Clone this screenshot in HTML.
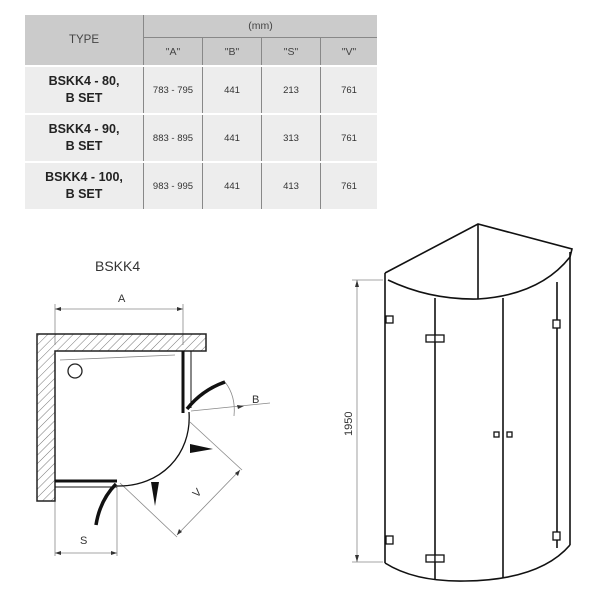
<!DOCTYPE html>
<html><head><style>
body{margin:0;width:600px;height:600px;background:#fff;overflow:hidden;font-family:"Liberation Sans",Arial,sans-serif}
table{position:absolute;left:25px;top:15px;border-collapse:collapse;width:352px;font-size:9.5px;color:#333}
td{text-align:center;padding:0;border-right:1.5px solid #888;border-bottom:2px solid #fff}
td:last-child{border-right:none}
.h{background:#cbcbcb;color:#444;font-size:10.5px}
.d td{background:#ededed;height:46px}
.t{font-weight:bold;font-size:12.5px;color:#222;line-height:17px}
</style></head><body>
<table>
<tr><td class="h" rowspan="2" style="width:118px;font-size:11.5px">TYPE</td><td class="h" colspan="4" style="height:22px;border-bottom:1.5px solid #888">(mm)</td></tr>
<tr><td class="h" style="height:27px;width:58px">"A"</td><td class="h" style="width:58px">"B"</td><td class="h" style="width:58px">"S"</td><td class="h">"V"</td></tr>
<tr class="d"><td class="t">BSKK4 - 80,<br>B SET</td><td>783 - 795</td><td>441</td><td>213</td><td>761</td></tr>
<tr class="d"><td class="t">BSKK4 - 90,<br>B SET</td><td>883 - 895</td><td>441</td><td>313</td><td>761</td></tr>
<tr class="d"><td class="t">BSKK4 - 100,<br>B SET</td><td>983 - 995</td><td>441</td><td>413</td><td>761</td></tr>
</table>
<svg width="600" height="600" style="position:absolute;left:0;top:0" font-family="Liberation Sans, Arial, sans-serif">
<defs><pattern id="hp" width="6" height="6" patternUnits="userSpaceOnUse" patternTransform="rotate(45)"><line x1="0" y1="0" x2="0" y2="6" stroke="#777" stroke-width="1"/></pattern></defs>
<text x="95" y="271" font-size="14" fill="#333">BSKK4</text>
<g stroke="#888" stroke-width="0.8" fill="none">
<line x1="55" y1="304" x2="55" y2="345"/><line x1="183" y1="304" x2="183" y2="345"/>
<line x1="55" y1="309" x2="183" y2="309"/>
<line x1="55" y1="490" x2="55" y2="556"/><line x1="117" y1="486" x2="117" y2="556"/>
<line x1="55" y1="553" x2="117" y2="553"/>
<line x1="191" y1="411" x2="270" y2="403"/>
<path d="M225,382 Q236,396 234,416"/>
<line x1="190" y1="422" x2="242" y2="470"/><line x1="120" y1="483" x2="177" y2="537"/>
<line x1="240" y1="470" x2="177" y2="535"/>
<line x1="60" y1="360" x2="175" y2="355"/>
</g>
<text x="118" y="302" font-size="11" fill="#333">A</text>
<text x="80" y="544" font-size="11" fill="#333">S</text>
<text x="252" y="403" font-size="11" fill="#333">B</text>
<text x="197" y="498" font-size="11" fill="#333" transform="rotate(-45 197 498)">V</text>
<path d="M37,334 H206 V351 H55 V501 H37 Z" fill="url(#hp)" stroke="#222" stroke-width="1.5"/>
<circle cx="75" cy="371" r="7" fill="none" stroke="#222" stroke-width="1.3"/>
<g stroke="#111" fill="none">
<line x1="183" y1="351" x2="183" y2="413" stroke-width="3"/>
<line x1="191" y1="351" x2="191" y2="408" stroke-width="1"/>
<line x1="55" y1="481" x2="117" y2="481" stroke-width="3"/>
<line x1="55" y1="487" x2="117" y2="487" stroke-width="1"/>
<path d="M187,409 Q202,390 225,382" stroke-width="3.5"/>
<path d="M116,484 Q100,500 96,525" stroke-width="3.5"/>
<path d="M189,412 C192,455 160,487 117,486" stroke-width="1.3"/>
</g>
<path d="M190,444 L213,449 L190,453 Z" fill="#111"/>
<path d="M151,482 L155,506 L159,482 Z" fill="#111"/>
<g fill="#333"><path d="M55,309 l6,-2 v4z M183,309 l-6,-2 v4z M55,553 l6,-2 v4z M117,553 l-6,-2 v4z M244,406 l-7,-1 1,4z M240,470 l-2,6 -3,-3z M177,535 l2,-6 3,3z"/></g>
<g stroke="#111" stroke-width="1.6" fill="none">
<path d="M385,273 L478,224 L572,249 L570,257"/>
<line x1="478" y1="224" x2="478" y2="299"/>
<path d="M388,280 Q430,300 478,299 Q540,295 570,257"/>
<line x1="385" y1="273" x2="385" y2="563"/>
<line x1="435" y1="298" x2="435" y2="580"/>
<line x1="503" y1="298" x2="503" y2="578"/>
<line x1="557" y1="282" x2="557" y2="548"/>
<line x1="570" y1="252" x2="570" y2="545"/>
<path d="M385,563 Q415,582 465,581 Q540,580 570,545"/>
</g>
<g stroke="#111" stroke-width="1.3" fill="#fff">
<rect x="386" y="316" width="7" height="7"/><rect x="426" y="335" width="9" height="7"/><rect x="435" y="335" width="9" height="7"/>
<rect x="553" y="320" width="7" height="8"/><rect x="494" y="432" width="5" height="5"/><rect x="507" y="432" width="5" height="5"/>
<rect x="386" y="536" width="7" height="8"/><rect x="426" y="555" width="9" height="7"/><rect x="435" y="555" width="9" height="7"/>
<rect x="553" y="532" width="7" height="8"/>
</g>
<g stroke="#888" stroke-width="0.8"><line x1="352" y1="280" x2="383" y2="280"/><line x1="352" y1="562" x2="383" y2="562"/><line x1="357" y1="280" x2="357" y2="562"/></g>
<path d="M357,280 l-2,7 h4z M357,562 l-2,-7 h4z" fill="#333"/>
<text x="0" y="0" font-size="11" fill="#333" transform="translate(352,436) rotate(-90)">1950</text>
</svg>
</body></html>
